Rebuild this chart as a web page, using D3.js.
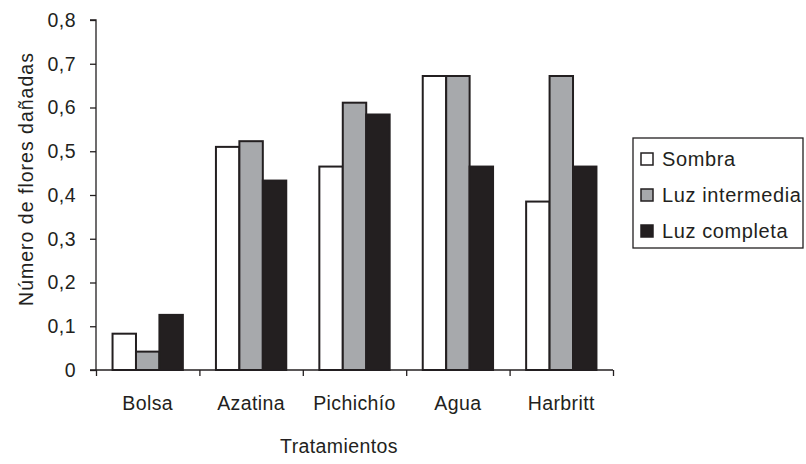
<!DOCTYPE html>
<html>
<head>
<meta charset="utf-8">
<script src="https://cdn.jsdelivr.net/npm/d3@7"></script>
<style>
  body { margin: 0; background: #fff; }
  text { font-family: "Liberation Sans", Arial, Helvetica, sans-serif; fill: #231f20; }
</style>
</head>
<body>
<svg id="chart" width="806" height="464"></svg>
<script>
// data
const categories = ["Bolsa", "Azatina", "Pichichío", "Agua", "Harbritt"];
const seriesNames = ["Sombra", "Luz intermedia", "Luz completa"];
const sombra = [0.083, 0.51, 0.465, 0.672, 0.385];
const luzIntermedia = [0.042, 0.523, 0.611, 0.672, 0.672];
const luzCompleta = [0.126, 0.433, 0.584, 0.465, 0.465];
const yTicks = [0, 0.1, 0.2, 0.3, 0.4, 0.5, 0.6, 0.7, 0.8];

const colors = ["#ffffff", "#a7a9ac", "#231f20"];
const ink = "#231f20";

const svg = d3.select("#chart");

const x0 = 96, x1 = 613, yTop = 20, yBottom = 370;

var x = d3.scaleBand().domain(categories).range([x0, x1]).paddingInner(0.32).paddingOuter(0.16);
var xSub = d3.scaleBand().domain(seriesNames).range([0, x.bandwidth()]);
var y = d3.scaleLinear().domain([0, 0.8]).range([yBottom, yTop]);

// rows for the join
const rows = categories.map((c, i) => ({
  cat: c,
  vals: [sombra[i], luzIntermedia[i], luzCompleta[i]]
}));

// bars
const groups = svg.selectAll(".grp").data(rows).join("g")
  .attr("class", "grp")
  .attr("transform", d => `translate(${x(d.cat)},0)`);

groups.selectAll("rect").data(d => d.vals.map((v, k) => ({ k: k, v: v }))).join("rect")
  .attr("x", d => xSub(seriesNames[d.k]))
  .attr("y", d => y(d.v))
  .attr("width", xSub.bandwidth())
  .attr("height", d => yBottom - y(d.v))
  .attr("fill", d => colors[d.k])
  .attr("stroke", ink)
  .attr("stroke-width", 2);

// y axis
const yAxis = svg.append("g")
  .attr("transform", `translate(${x0},0)`)
  .call(d3.axisLeft(y).tickValues(yTicks).tickSize(6).tickPadding(14)
    .tickFormat(d => d === 0 ? "0" : d3.format(".1f")(d).replace(".", ",")));
yAxis.select(".domain").attr("stroke", ink).attr("stroke-width", 1.3).attr("d", `M-6,${yTop}H0V${yBottom}`);
yAxis.selectAll(".tick line").attr("stroke", ink).attr("stroke-width", 1.3);
yAxis.selectAll("text").style("font-size", "19.5px").style("letter-spacing", "0.5px").attr("fill", ink);

// x axis: ticks at category boundaries
var xEdges = d3.scaleLinear().domain([0, categories.length]).range([x0, x1]);
const xAxis = svg.append("g")
  .attr("transform", `translate(0,${yBottom})`)
  .call(d3.axisBottom(xEdges).ticks(categories.length).tickSize(6).tickFormat(""));
xAxis.select(".domain").attr("stroke", ink).attr("stroke-width", 1.3).attr("d", `M${x0 - 6},0H${x1}`);
xAxis.selectAll(".tick line").attr("stroke", ink).attr("stroke-width", 1.3);

svg.append("g").selectAll("text").data(categories).join("text")
  .attr("x", d => x(d) + x.bandwidth() / 2)
  .attr("y", 410)
  .attr("text-anchor", "middle")
  .style("font-size", "19.5px")
  .style("letter-spacing", "0.4px")
  .text(d => d);

// axis titles
svg.append("text")
  .attr("x", 339).attr("y", 453)
  .attr("text-anchor", "middle")
  .style("font-size", "19.5px")
  .style("letter-spacing", "0.4px")
  .text("Tratamientos");

svg.append("text")
  .attr("transform", "translate(33,179) rotate(-90)")
  .attr("text-anchor", "middle")
  .style("font-size", "19.5px")
  .style("letter-spacing", "1px")
  .text("Número de flores dañadas");

// legend
const legend = svg.append("g");
legend.append("rect")
  .attr("x", 633).attr("y", 138).attr("width", 170).attr("height", 110)
  .attr("fill", "none").attr("stroke", ink).attr("stroke-width", 1.3);

const leg = legend.selectAll(".item").data(seriesNames).join("g")
  .attr("class", "item")
  .attr("transform", (d, i) => `translate(641,${159 + i * 36})`);
leg.append("rect")
  .attr("x", 0).attr("y", -6).attr("width", 12).attr("height", 12)
  .attr("fill", (d, i) => colors[i]).attr("stroke", ink).attr("stroke-width", 1.5);
leg.append("text")
  .attr("x", 21).attr("y", 7)
  .style("font-size", "20px")
  .style("letter-spacing", "0.6px")
  .text(d => d);
</script>
</body>
</html>
